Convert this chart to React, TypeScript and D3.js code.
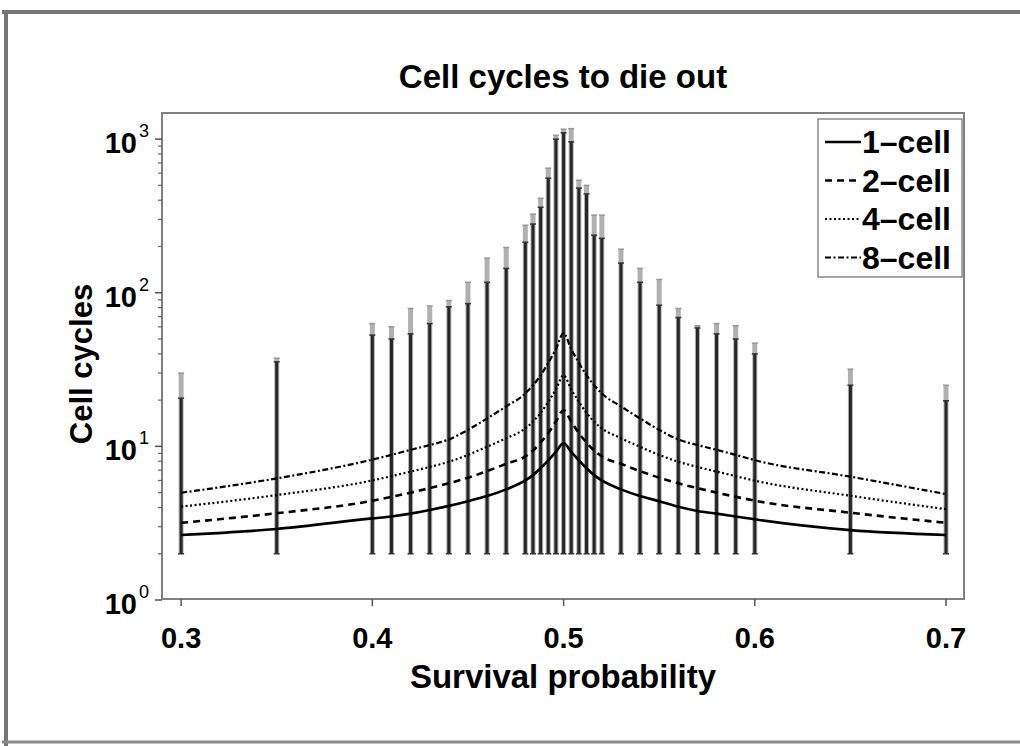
import React from "react";
import * as d3 from "d3";

const pValues = [0.3, 0.35, 0.4, 0.41, 0.42, 0.43, 0.44, 0.45, 0.46, 0.47, 0.48, 0.484, 0.488, 0.492, 0.496, 0.5, 0.504, 0.508, 0.512, 0.516, 0.52, 0.53, 0.54, 0.55, 0.56, 0.57, 0.58, 0.59, 0.6, 0.65, 0.7];

const cell1 = [2.65, 2.9, 3.4, 3.5, 3.65, 3.85, 4.1, 4.4, 4.75, 5.25, 6.0, 6.5, 7.2, 8.1, 9.2, 10.5, 9.2, 8.1, 7.2, 6.5, 6.0, 5.25, 4.75, 4.4, 4.05, 3.8, 3.65, 3.5, 3.35, 2.85, 2.65];
const cell2 = [3.18, 3.67, 4.43, 4.7, 5.0, 5.35, 5.75, 6.25, 6.9, 7.7, 8.6, 9.4, 10.6, 12.2, 14.5, 17.2, 14.5, 12.2, 10.6, 9.4, 8.6, 7.7, 6.9, 6.25, 5.75, 5.35, 5.0, 4.7, 4.43, 3.7, 3.18];
const cell4 = [4.05, 4.82, 6.0, 6.4, 6.85, 7.35, 7.94, 8.8, 9.94, 11.3, 13.1, 14.5, 16.5, 19.5, 23.5, 29, 23.5, 19.5, 16.5, 14.5, 13.1, 11.3, 9.94, 8.8, 7.94, 7.35, 6.85, 6.4, 5.98, 4.77, 3.9];
const cell8 = [4.99, 6.19, 8.2, 8.8, 9.5, 10.2, 11.1, 12.8, 15.2, 18.2, 22.1, 25, 29, 35, 43, 54.6, 43, 35, 29, 25, 22.1, 18.2, 15.2, 12.8, 11.1, 10.2, 9.5, 8.8, 8.13, 6.35, 4.89];

const errLower = 2;
const errUpperDark = [20.6, 35.5, 53, 50, 54, 63, 81, 85, 117, 144, 213, 280, 360, 557, 1000, 1100, 960, 480, 440, 237, 226, 156, 117, 83, 69, 59, 54, 50, 40, 25, 19.8];
const errUpperLight = [30, 37.5, 63, 60, 79, 82, 89, 117, 168, 197, 275, 325, 412, 647, 1060, 1160, 1170, 540, 500, 320, 320, 192, 144, 122, 79, 61, 63, 61, 47, 31.8, 25];

const seriesNames = ["1\u2013cell", "2\u2013cell", "4\u2013cell", "8\u2013cell"];
const xTicks = [0.3, 0.4, 0.5, 0.6, 0.7];
const yDecades = [0, 1, 2, 3];

const FONT = "'Liberation Sans', Arial, Helvetica, sans-serif";

export default function App() {
  const L = 162, R = 964, T = 113, B = 599;
  const x = d3.scaleLinear().domain([0.29, 0.7094]).range([L, R]);
  const y = d3.scaleLog().domain([1, Math.pow(10, 3.17)]).range([B + 1, T]);

  const series = [cell1, cell2, cell4, cell8];
  const styles = [
    { w: 2.6, dash: "" },
    { w: 2.6, dash: "7,5" },
    { w: 2.2, dash: "2,2.5" },
    { w: 2.2, dash: "6,2.5,2,2.5" },
  ];
  const line = d3.line<number>().x((_, i) => x(pValues[i])).y((v) => y(v)).curve(d3.curveMonotoneX);

  const minorTicks: number[] = [];
  yDecades.slice(0, 3).forEach((d) => {
    for (let k = 2; k <= 9; k++) minorTicks.push(k * Math.pow(10, d));
  });

  return (
    <svg width={1020} height={746} style={{ position: "absolute", left: 0, top: 0, background: "#fff" }} fontFamily={FONT}>
      <rect x={0} y={0} width={1020} height={746} fill="#fff" />
      {/* outer frame */}
      <line x1={2} x2={1020} y1={12} y2={12} stroke="#777" strokeWidth={4} />
      <line x1={6} x2={6} y1={10} y2={746} stroke="#777" strokeWidth={4} />
      <line x1={2} x2={1020} y1={742} y2={742} stroke="#888" strokeWidth={3} />

      <text x={563} y={88} textAnchor="middle" fontSize={33} fontWeight="bold">Cell cycles to die out</text>

      {/* error bars */}
      {pValues.map((p, i) => {
        const cx = x(p);
        return (
          <g key={"e" + i}>
            <line x1={cx} x2={cx} y1={y(errLower)} y2={y(errUpperLight[i])} stroke="#b0b0b0" strokeWidth={5} />
            <line x1={cx - 3} x2={cx + 3} y1={y(errUpperLight[i])} y2={y(errUpperLight[i])} stroke="#999" strokeWidth={1.5} />
            <line x1={cx} x2={cx} y1={y(errLower)} y2={y(errUpperDark[i])} stroke="#262626" strokeWidth={3} />
            <line x1={cx - 3} x2={cx + 3} y1={y(errUpperDark[i])} y2={y(errUpperDark[i])} stroke="#333" strokeWidth={1.5} />
            <line x1={cx - 3} x2={cx + 3} y1={y(errLower)} y2={y(errLower)} stroke="#333" strokeWidth={1.5} />
          </g>
        );
      })}

      {/* series lines */}
      {series.map((s, k) => (
        <path key={"s" + k} d={line(s) || ""} fill="none" stroke="#000" strokeWidth={styles[k].w} strokeDasharray={styles[k].dash} />
      ))}

      {/* axes box */}
      <rect x={L} y={T} width={R - L} height={B - T} fill="none" stroke="#808080" strokeWidth={2} />

      {/* x ticks */}
      {xTicks.map((t) => (
        <g key={"xt" + t}>
          <line x1={x(t)} x2={x(t)} y1={B} y2={B + 7} stroke="#555" strokeWidth={1.5} />
          <text x={x(t)} y={648} textAnchor="middle" fontSize={29} fontWeight="bold">{t.toFixed(1)}</text>
        </g>
      ))}

      {/* y ticks */}
      {minorTicks.map((t, i) => (
        <line key={"mt" + i} x1={L - 4} x2={L} y1={y(t)} y2={y(t)} stroke="#666" strokeWidth={1.2} />
      ))}
      {yDecades.map((d) => {
        const ty = y(Math.pow(10, d));
        return (
          <g key={"yt" + d}>
            <line x1={L - 7} x2={L} y1={ty} y2={ty} stroke="#555" strokeWidth={1.5} />
            <text x={137} y={ty + 14} textAnchor="end" fontSize={29} fontWeight="bold">10</text>
            <text x={139} y={ty - 2} textAnchor="start" fontSize={18}>{d}</text>
          </g>
        );
      })}

      <text x={563} y={688} textAnchor="middle" fontSize={33} fontWeight="bold">Survival probability</text>
      <text transform="translate(92,364) rotate(-90)" textAnchor="middle" fontSize={31} fontWeight="bold">Cell cycles</text>

      {/* legend */}
      <rect x={818} y={119} width={144} height={158} fill="#fff" stroke="#888" strokeWidth={1.5} />
      {seriesNames.map((n, k) => {
        const cy = 142 + k * 38.5;
        return (
          <g key={"lg" + k}>
            <line x1={825} x2={861} y1={cy} y2={cy} stroke="#000" strokeWidth={styles[k].w} strokeDasharray={styles[k].dash} />
            <text x={862} y={cy + 11} fontSize={32} fontWeight="bold">{n}</text>
          </g>
        );
      })}
    </svg>
  );
}
